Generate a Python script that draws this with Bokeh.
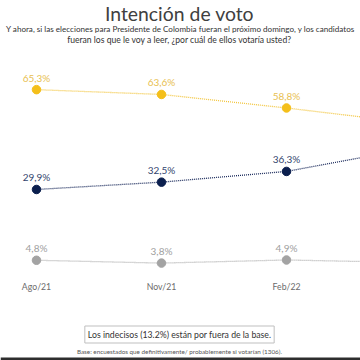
from bokeh.plotting import figure
from bokeh.models import Label, Range1d, BoxAnnotation
from bokeh.core.properties import value
from bokeh.embed import file_html
from bokeh.resources import INLINE

categories = ["Ago/21", "Nov/21", "Feb/22", "May/22"]
serie_a = [65.3, 63.6, 58.8, 53.5]
serie_b = [29.9, 32.5, 36.3, 44.5]
serie_c = [4.8, 3.8, 4.9, 4.0]
labels_a = ["65,3%", "63,6%", "58,8%", ""]
labels_b = ["29,9%", "32,5%", "36,3%", ""]
labels_c = ["4,8%", "3,8%", "4,9%", ""]
visible = 3  # the last survey lies beyond the right edge of the slide crop

FONT = "Lato"
W, H = 360, 360

p = figure(width=W, height=H, output_backend="svg", toolbar_location=None,
           x_axis_location=None, y_axis_location=None, min_border=0,
           x_range=Range1d(-0.288, 2.592), y_range=Range1d(-30.74, 96.91))
p.outline_line_color = None
p.grid.visible = False
p.background_fill_color = "white"
p.border_fill_color = "white"

xs = list(range(len(categories)))

series = [
    (serie_a, labels_a, "#F2C53D", "#F4BF1A", "#E8C050"),
    (serie_b, labels_b, "#1B2B5C", "#0B1F4E", "#33456E"),
    (serie_c, labels_c, "#ADADAD", "#A3A3A3", "#A0A0A0"),
]
for vals, labs, lc, dc, tc in series:
    p.line(xs, vals, line_color=lc, line_width=1.3, line_dash="1 1")
    p.scatter(xs, vals, size=8.5, fill_color=dc, line_color=dc)
    p.text(xs[:visible], vals[:visible], text=labs[:visible], text_font=value(FONT),
           text_font_size="10px", text_color=tc, text_align="center",
           text_baseline="middle", y_offset=-12)

p.text(xs[:visible], [0] * visible, text=categories[:visible], text_font=value(FONT),
       text_font_size="8.7px", text_color="#6B6B6B", text_align="center",
       text_baseline="middle", y_offset=13)

def lab(text, x, y, size, color, **kw):
    p.add_layout(Label(x=x, y=y, x_units="screen", y_units="screen", text=text,
                       text_font=FONT, text_font_size=size, text_color=color,
                       text_align="center", text_baseline="middle", **kw))

lab("Intención de voto", 179, 347, "19.4px", "#404040")
lab("Y ahora, si las elecciones para Presidente de Colombia fueran el próximo domingo, y los candidatos",
    180, 332, "8.1px", "#333333")
lab("fueran los que le voy a leer, ¿por cuál de ellos votaría usted?", 179, 321, "8.6px", "#333333")
lab("Los indecisos (13.2%) están por fuera de la base.", 179, 26, "8.7px", "#333333",
    border_line_color="#BFBFBF", border_line_width=1, background_fill_color="white", padding=3)
lab("Base: encuestados que definitivamente/ probablemente si votarían (1306).", 179, 9.5, "6.3px", "#555555")

p.add_layout(BoxAnnotation(bottom=0, top=3, bottom_units="screen", top_units="screen",
                           fill_color="#2E2E2E", fill_alpha=1, line_color=None))

open("out.html", "w").write(file_html(p, INLINE))
